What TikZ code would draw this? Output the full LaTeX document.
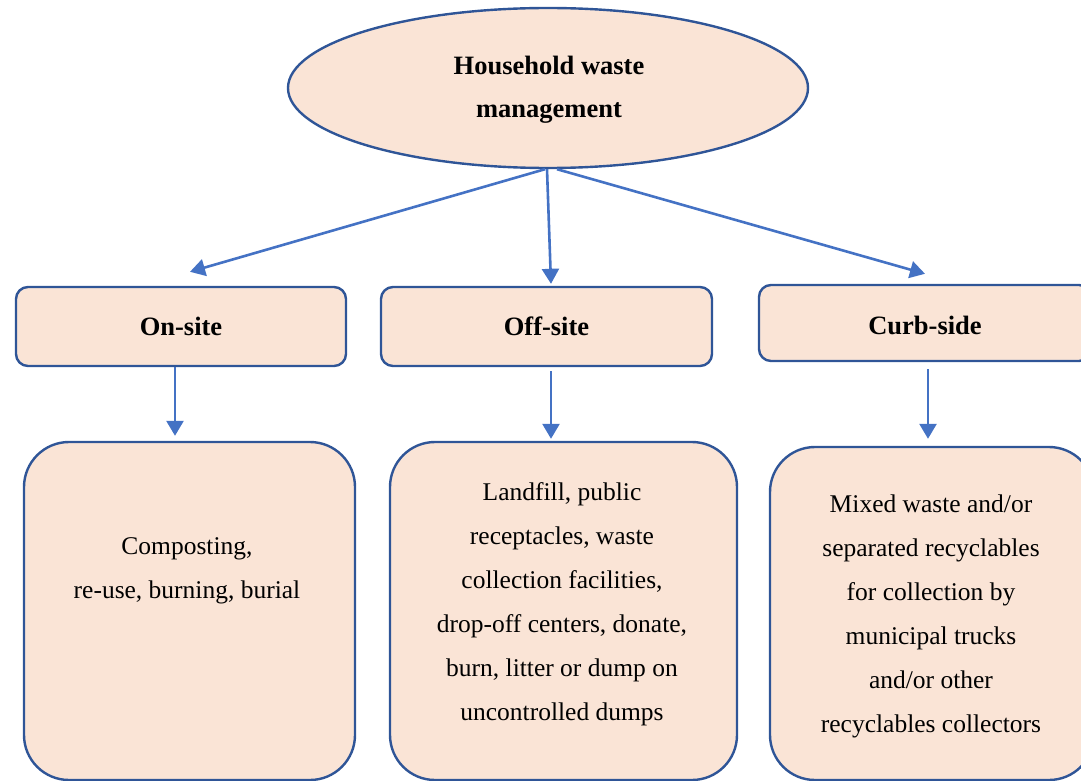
\documentclass[tikz,border=0pt]{standalone}
\usepackage{fontspec}
\setmainfont{Liberation Serif}
\usetikzlibrary{shapes.geometric,arrows.meta,calc}
\definecolor{peach}{HTML}{FAE4D6}
\definecolor{edge}{HTML}{2F5597}
\definecolor{arr}{HTML}{4472C4}
\begin{document}
\begin{tikzpicture}[x=1pt,y=-1pt,
  midbox/.style={draw=edge,fill=peach,line width=2.4pt,rounded corners=12pt,inner sep=0pt},
  lowbox/.style={draw=edge,fill=peach,line width=2.4pt,rounded corners=45pt,inner sep=0pt},
  ttl/.style={font=\fontsize{26.5}{43}\selectfont\bfseries,align=center},
  body/.style={font=\fontsize{25.5}{44}\selectfont,align=center},
  conn/.style={draw=arr,line width=2.6pt,-{Triangle[length=15pt,width=17pt]}}]
\clip (0,0) rectangle (1081,781);
\node[ellipse,draw=edge,fill=peach,line width=2.4pt,minimum width=520pt,minimum height=160pt,inner sep=0pt] (top) at (548,88) {};
\node[ttl] (toptext) at (549,90) {Household waste\\management};
\node[midbox,minimum width=330pt,minimum height=79pt] (on) at (181,326.5) {};
\node[midbox,minimum width=331pt,minimum height=79pt] (off) at (546.5,326.5) {};
\node[midbox,minimum width=332pt,minimum height=76pt] (curb) at (925,323) {};
\node[ttl] (ontext) at (181,326) {On-site};
\node[ttl] (offtext) at (546.5,326) {Off-site};
\node[ttl] (curbtext) at (925,325) {Curb-side};
\node[lowbox,minimum width=331pt,minimum height=338pt] (b1) at (189.5,611) {};
\node[lowbox,minimum width=347pt,minimum height=338pt] (b2) at (563.5,611) {};
\node[lowbox,minimum width=324pt,minimum height=333pt] (b3) at (932,613.5) {};
\node[body] (t1) at (187,571) {Composting,\\re-use, burning, burial};
\node[body] (t2) at (562,604) {Landfill, public\\receptacles, waste\\collection facilities,\\drop-off centers, donate,\\burn, litter or dump on\\uncontrolled dumps};
\node[body] (t3) at (931,616) {Mixed waste and/or\\separated recyclables\\for collection by\\municipal trucks\\and/or other\\recyclables collectors};
\draw[conn] ($(top.south)+(-3,0)$) -- ($(on.north)+(9,-14)$);
\draw[conn] ($(top.south)+(-1,0)$) -- ($(off.north)+(4.5,-2)$);
\draw[conn] ($(top.south)+(9,0)$) -- ($(curb.north)+(0,-10)$);
\draw[conn] ($(on.south)+(-6,0)$) -- ($(b1.north)+(-14.5,-5)$);
\draw[conn] ($(off.south)+(4.5,4)$) -- ($(b2.north)+(-12.5,-2)$);
\draw[conn] ($(curb.south)+(3,7)$) -- ($(b3.north)+(-4,-7)$);
\end{tikzpicture}
\end{document}
